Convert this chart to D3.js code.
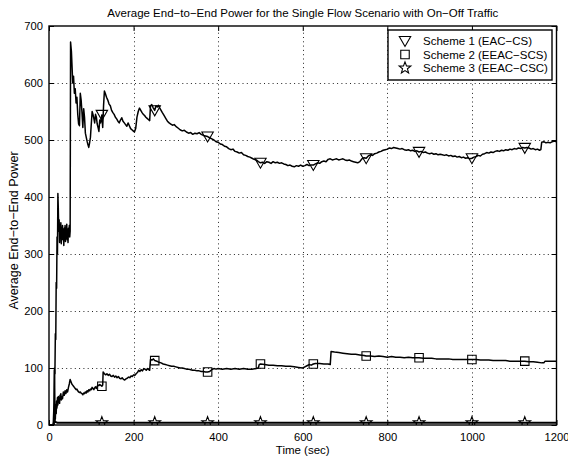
<!DOCTYPE html>
<html>
<head>
<meta charset="utf-8">
<script src="https://cdn.jsdelivr.net/npm/d3@7"></script>
<style>
  html, body { margin: 0; padding: 0; background: #fff; }
  svg { display: block; font-family: "Liberation Sans", Arial, Helvetica, sans-serif; }
</style>
</head>
<body>
<svg id="chart" width="568" height="459"></svg>
<script>
// Average end-to-end power, [time (s), power] samples for each scheme
const scheme1 = [
  [0,0],[10,0],[12,40],[13,100],[14,90],[15,160],[16,150],[17,250],[18,240],[19,330],[20,300],[21,406],[22,380],[23,340],[24,360],[25,320],[26,350],[27,330],[28,355],[29,318],[30,345],[31,325],[32,350],[33,330],[34,340],[35,315],[36,345],[37,328],[38,350],[39,322],[40,340],[41,330],[42,352],[43,325],[44,338],[45,320],[46,345],[47,332],[48,350],[49,330],[50,340],
  [51,672],[53,655],[55,620],[56,600],[58,612],[60,582],[62,590],[64,565],[66,575],[68,545],[70,528],[72,525],[74,582],[76,570],[78,548],[80,522],[82,555],[84,540],[86,512],[88,505],[90,498],[92,492],[94,487],[96,495],[98,505],[100,528],[102,550],[104,545],[106,538],[108,530],[110,545],[112,540],[114,528],[116,522],[118,515],[120,535],[122,530],[125,544],[127,522],[129,560],[131,586],[133,582],[136,575],[139,570],[142,563],[145,560],[148,552],[151,548],[154,545],[157,540],[160,537],[163,533],[166,530],[169,535],[172,539],[175,533],[178,530],[181,527],[184,524],[187,530],[190,525],[193,520],[196,518],[199,516],[202,514],[205,520],[208,540],[211,550],[214,556],[217,552],[220,548],[223,545],[226,543],[229,540],[232,538],[235,536],[238,534],
  [240,560],[243,562],[246,557],[250,552],[253,560],[256,558],[259,561],[262,556],[265,552],[268,548],[272,543],[276,538],[280,533],[284,530],[288,528],[292,526],[296,527],[300,524],[305,521],[310,518],[315,516],[320,517],[325,514],[330,512],[335,513],[340,510],[345,512],[350,511],[355,513],[360,510],[365,508],[370,507],[375,506],[380,504],[385,502],[390,500],[395,497],[400,496],[405,493],[410,492],[415,489],[420,488],[425,485],[430,483],[435,484],[440,480],[445,479],[450,477],[455,478],[460,474],[465,473],[470,471],[475,470],[480,468],[485,466],[490,465],[495,462],[500,460],
  [505,461],[510,459],[515,462],[520,461],[525,459],[530,462],[535,460],[540,461],[545,459],[550,460],[555,458],[560,457],[565,455],[570,456],[575,454],[580,453],[585,455],[590,454],[595,456],[600,454],[605,455],[610,457],[615,455],[620,456],[625,456],[630,458],[635,460],[640,459],[645,462],[650,463],[655,462],[660,466],[665,467],[670,465],[675,466],[680,467],[685,465],[690,466],[695,467],[700,465],[705,464],[710,465],[715,463],[720,462],[725,461],[730,460],[735,462],[740,467],[745,469],[750,468],
  [755,472],[760,474],[765,473],[770,476],[775,477],[780,479],[785,480],[790,482],[795,483],[800,484],[805,486],[810,485],[815,487],[820,486],[825,485],[830,484],[835,485],[840,483],[845,482],[850,483],[855,481],[860,482],[865,480],[870,481],[875,479],[880,480],[885,478],[890,479],[895,477],[900,476],[905,477],[910,475],[915,476],[920,474],[925,475],[930,474],[935,473],[940,474],[945,472],[950,473],[955,471],[960,472],[965,470],[970,471],[975,469],[980,470],[985,468],[990,469],[995,467],[1000,468],
  [1005,470],[1010,471],[1015,473],[1020,472],[1025,475],[1030,476],[1035,478],[1040,477],[1045,479],[1050,478],[1055,480],[1060,481],[1065,480],[1070,482],[1075,481],[1080,483],[1085,482],[1090,484],[1095,483],[1100,485],[1105,484],[1110,486],[1115,485],[1120,487],[1125,486],[1130,487],[1135,486],[1140,484],[1145,485],[1150,483],[1155,484],[1160,482],[1163,483],[1165,496],[1170,497],[1175,495],[1180,496],[1185,495],[1190,497],[1195,498],[1200,497]
];

const scheme2 = [
  [0,0],[10,0],[12,0],[13,96],[14,30],[15,10],[16,35],[17,20],[18,42],[19,30],[20,48],[21,35],[22,50],[23,40],[24,46],[25,38],[26,52],[27,45],[28,55],[29,44],[30,50],[32,46],[34,58],[36,52],[38,60],[40,55],[42,62],[44,58],[46,66],[48,72],[50,80],[52,76],[54,72],[56,70],[58,68],[60,66],[62,64],[64,62],[66,63],[68,60],[70,58],[72,57],[74,58],[76,56],[78,55],[80,53],[82,56],[84,55],[86,58],[88,56],[90,60],[92,58],[94,62],[96,60],[98,63],[100,62],[102,66],[104,64],[106,62],[108,65],[110,67],[112,64],[114,68],[116,70],[118,69],[120,71],[122,70],[125,68],[127,70],
  [128,93],[131,90],[134,88],[137,90],[140,87],[143,89],[146,86],[149,85],[152,87],[155,84],[158,86],[161,83],[164,85],[167,82],[170,81],[173,83],[176,80],[179,79],[182,81],[185,82],[188,84],[191,83],[194,86],[197,85],[200,88],[203,87],[206,90],[209,92],[212,96],[215,94],[218,97],[221,95],[224,99],[227,98],[230,96],[233,99],[236,97],[238,96],
  [240,115],[244,114],[247,116],[250,113],[255,112],[260,110],[265,109],[270,107],[275,106],[280,105],[285,104],[290,103],[295,103],[300,102],[305,101],[310,100],[315,100],[320,99],[325,98],[330,98],[335,97],[340,96],[345,96],[350,95],[355,95],[360,94],[365,94],[370,93],[375,93],[380,94],[385,97],[390,99],[395,98],[400,99],[410,98],[420,99],[430,98],[440,99],[450,98],[460,99],[470,98],[480,98],[490,99],[495,100],
  [497,106],[500,107],[510,106],[520,105],[530,105],[540,104],[550,104],[560,103],[570,103],[580,102],[590,101],[600,100],[605,102],[610,104],[615,106],[620,105],[625,107],[630,108],[640,108],[650,107],[660,107],[665,106],
  [667,129],[675,128],[685,127],[695,126],[705,125],[715,124],[725,124],[735,123],[745,122],[750,121],[760,121],[770,120],[780,121],[790,120],[800,119],[810,120],[820,119],[830,119],[840,118],[850,119],[860,118],[870,118],[875,118],[885,117],[895,117],[905,117],[915,116],[925,116],[935,116],[945,116],[955,115],[965,115],[975,115],[985,115],[995,115],[1000,115],[1010,115],[1020,114],[1030,114],[1040,114],[1050,113],[1060,113],[1070,113],[1080,113],[1090,112],[1100,112],[1110,112],[1125,112],[1135,111],[1145,111],[1155,110],[1165,109],[1170,109],[1173,112],[1180,112],[1190,112],[1200,112]
];

const scheme3 = [
  [0,0],[10,0],[13,8],[16,5],[20,4],[125,4],[250,4],[375,4],[500,4],[625,4],[750,4],[875,4],[1000,4],[1125,4],[1200,4]
];

const seriesNames = ["Scheme 1 (EAC\u2212CS)", "Scheme 2 (EEAC\u2212SCS)", "Scheme 3 (EEAC\u2212CSC)"];
const markerTimes = [125, 250, 375, 500, 625, 750, 875, 1000, 1125];
const xTicks = [0, 200, 400, 600, 800, 1000, 1200];
const yTicks = [0, 100, 200, 300, 400, 500, 600, 700];

const titleText = "Average End\u2212to\u2212End Power for the Single Flow Scenario with On\u2212Off Traffic";
const xLabel = "Time (sec)";
const yLabel = "Average End\u2212to\u2212End Power";

// ---- layout ----
const svg = d3.select("#chart");
const W = 568, H = 459;
const m = { left: 49, right: 11.5, top: 26, bottom: 34 };
const x = d3.scaleLinear().domain([0, 1200]).range([m.left, W - m.right]);
const y = d3.scaleLinear().domain([0, 700]).range([H - m.bottom, m.top]);
const x0 = x.range()[0], x1 = x.range()[1], y0 = y.range()[0], y1 = y.range()[1];

svg.append("rect").attr("width", W).attr("height", H).attr("fill", "#fff");

// dotted grid
const grid = svg.append("g").attr("stroke", "#000").attr("stroke-width", 1)
  .attr("stroke-dasharray", "1,3.3").attr("opacity", 0.85);
xTicks.slice(1, -1).forEach(t => {
  const px = Math.round(x(t)) + 0.5;
  grid.append("line").attr("x1", px).attr("x2", px).attr("y1", y0).attr("y2", y1);
});
yTicks.slice(1, -1).forEach(v => {
  const py = Math.round(y(v)) + 0.5;
  grid.append("line").attr("x1", x0).attr("x2", x1).attr("y1", py).attr("y2", py);
});

// axes with inward ticks on all four sides
const tickFont = 11.2;
const fmt = d3.format("d");
const axB = svg.append("g").attr("transform", `translate(0,${y0})`)
  .call(d3.axisBottom(x).tickValues(xTicks).tickFormat(fmt).tickSize(-5).tickPadding(8).tickSizeOuter(0));
const axT = svg.append("g").attr("transform", `translate(0,${y1})`)
  .call(d3.axisTop(x).tickValues(xTicks).tickSize(-5).tickFormat("").tickSizeOuter(0));
const axL = svg.append("g").attr("transform", `translate(${x0},0)`)
  .call(d3.axisLeft(y).tickValues(yTicks).tickFormat(fmt).tickSize(-5).tickPadding(6).tickSizeOuter(0));
const axR = svg.append("g").attr("transform", `translate(${x1},0)`)
  .call(d3.axisRight(y).tickValues(yTicks).tickSize(-5).tickFormat("").tickSizeOuter(0));
[axB, axT, axL, axR].forEach(g => {
  g.select(".domain").remove();
  g.selectAll("line").attr("stroke", "#000").attr("stroke-width", 1);
  g.selectAll("text").attr("font-size", tickFont).attr("fill", "#000")
    .attr("font-family", "'Liberation Sans', Arial, sans-serif");
});

// plot box
svg.append("rect").attr("x", x0).attr("y", y1).attr("width", x1 - x0).attr("height", y0 - y1)
  .attr("fill", "none").attr("stroke", "#000").attr("stroke-width", 1.4);

// series lines
const line = d3.line().x(d => x(d[0])).y(d => y(d[1]));
const allSeries = [scheme1, scheme2, scheme3];
svg.append("clipPath").attr("id", "plotclip")
  .append("rect").attr("x", x0).attr("y", y1).attr("width", x1 - x0).attr("height", y0 - y1);
const plot = svg.append("g").attr("clip-path", "url(#plotclip)");
allSeries.forEach((s, i) => {
  plot.append("path").datum(s).attr("d", line)
    .attr("fill", "none").attr("stroke", "#000")
    .attr("stroke-width", i === 2 ? 2 : 1.5).attr("stroke-linejoin", "round");
});

// marker shapes
const triDown = d3.symbol().type({ draw(ctx, size) {
  const r = Math.sqrt(size) / 2;
  ctx.moveTo(-r, -r * 0.8); ctx.lineTo(r, -r * 0.8); ctx.lineTo(0, r * 0.95); ctx.closePath();
}}).size(130);
const square = d3.symbol().type({ draw(ctx, size) {
  const r = Math.sqrt(size) / 2;
  ctx.rect(-r, -r, 2 * r, 2 * r);
}}).size(72);
const star = d3.symbol().type({ draw(ctx, size) {
  const R = Math.sqrt(size) / 2, r = R * 0.42;
  for (let k = 0; k < 10; k++) {
    const a = -Math.PI / 2 + k * Math.PI / 5, rr = k % 2 === 0 ? R : r;
    const px = rr * Math.cos(a), py = rr * Math.sin(a);
    if (k === 0) ctx.moveTo(px, py); else ctx.lineTo(px, py);
  }
  ctx.closePath();
}}).size(150);
const markerGen = [triDown, square, star];

allSeries.forEach((s, i) => {
  const pts = markerTimes.map(t => s.find(d => d[0] === t)).filter(Boolean);
  plot.selectAll(null).data(pts).enter().append("path")
    .attr("transform", d => `translate(${x(d[0])},${y(d[1])})`)
    .attr("d", markerGen[i]())
    .attr("fill", "none").attr("stroke", "#000").attr("stroke-width", 1.1);
});

// title and axis labels
svg.append("text").attr("x", (x0 + x1) / 2).attr("y", 17).attr("text-anchor", "middle")
  .attr("font-size", 11.5).text(titleText);
svg.append("text").attr("x", (x0 + x1) / 2).attr("y", 454).attr("text-anchor", "middle")
  .attr("font-size", 11.5).text(xLabel);
svg.append("text").attr("transform", `translate(18,${(y0 + y1) / 2 + 5}) rotate(-90)`)
  .attr("text-anchor", "middle").attr("font-size", 12.5).text(yLabel);

// legend
const lg = svg.append("g");
const lx = 388, ly = 30, lw = 164, lh = 50;
lg.append("rect").attr("x", lx).attr("y", ly).attr("width", lw).attr("height", lh)
  .attr("fill", "#fff").attr("stroke", "#000").attr("stroke-width", 1.4);
seriesNames.forEach((name, i) => {
  const cy = ly + 11 + i * 13.5;
  lg.append("path").attr("transform", `translate(${lx + 17},${cy})`)
    .attr("d", markerGen[i]()).attr("fill", "none").attr("stroke", "#000").attr("stroke-width", 1.1);
  lg.append("text").attr("x", lx + 35).attr("y", cy + 4).attr("font-size", 11.5).text(name);
});
</script>
</body>
</html>
